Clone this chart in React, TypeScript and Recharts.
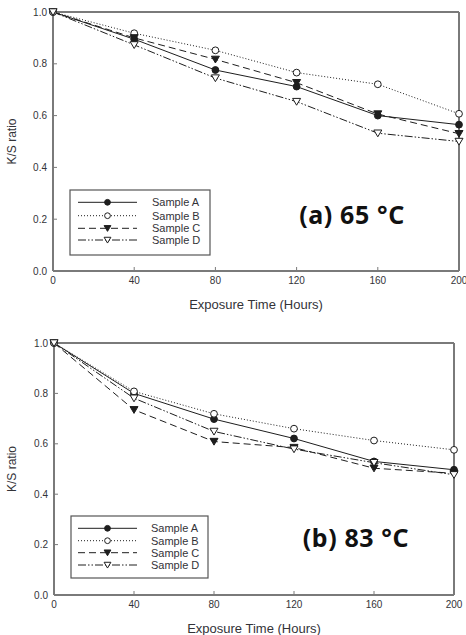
import React from 'react';
import { LineChart, Line, XAxis, YAxis, ReferenceLine, Customized } from 'recharts';

const hours = [0, 40, 80, 120, 160, 200];
const yTicks = [0, 0.2, 0.4, 0.6, 0.8, 1.0];
const seriesNames = ['Sample A', 'Sample B', 'Sample C', 'Sample D'];

const sampleA65 = [1.0, 0.895, 0.776, 0.712, 0.6, 0.565];
const sampleB65 = [1.0, 0.918, 0.852, 0.766, 0.721, 0.607];
const sampleC65 = [1.0, 0.9, 0.817, 0.727, 0.606, 0.53];
const sampleD65 = [1.0, 0.873, 0.745, 0.654, 0.532, 0.5];

const sampleA83 = [1.0, 0.8, 0.698, 0.621, 0.53, 0.497];
const sampleB83 = [1.0, 0.808, 0.719, 0.66, 0.613, 0.576];
const sampleC83 = [1.0, 0.735, 0.609, 0.585, 0.503, 0.483];
const sampleD83 = [1.0, 0.781, 0.649, 0.579, 0.525, 0.477];

const LINE = '#1e1e1e';
const AXIS = '#7a7a7a';
const TEXT = '#333338';
const FONT = '"Liberation Sans", Arial, sans-serif';

type Style = { key: string; dash?: string; marker: 'circle' | 'tri'; filled: boolean };
const styles: Style[] = [
  { key: 'a', dash: undefined, marker: 'circle', filled: true },
  { key: 'b', dash: '1 2', marker: 'circle', filled: false },
  { key: 'c', dash: '7 4', marker: 'tri', filled: true },
  { key: 'd', dash: '8 2 1.5 2 1.5 2', marker: 'tri', filled: false },
];

function Marker({ cx, cy, kind, filled, s = 1 }: { cx: number; cy: number; kind: 'circle' | 'tri'; filled: boolean; s?: number }) {
  if (cx == null || cy == null) return null;
  const fill = filled ? LINE : '#ffffff';
  if (kind === 'circle') {
    return <circle cx={cx} cy={cy} r={3.4 * s} fill={fill} stroke={LINE} strokeWidth={1} />;
  }
  const d = `M${cx - 4 * s},${cy - 3.2 * s} L${cx + 4 * s},${cy - 3.2 * s} L${cx},${cy + 3.6 * s} Z`;
  return <path d={d} fill={fill} stroke={LINE} strokeWidth={1} />;
}

function makeDot(s: Style) {
  return (props: any) => (
    <Marker key={`${s.key}-${props.index}`} cx={props.cx} cy={props.cy} kind={s.marker} filled={s.filled} />
  );
}

type PanelProps = {
  a: number[]; b: number[]; c: number[]; d: number[];
  height: number;
  margin: { top: number; right: number; left: number; bottom: number };
  yWidth: number;
  legend: { x: number; y: number; w: number; h: number; rows: number[]; lx1: number; lx2: number; tx: number };
  note: { text: string; x: number; y: number };
};

function Panel(p: PanelProps) {
  const data = hours.map((h, i) => ({ h, a: p.a[i], b: p.b[i], c: p.c[i], d: p.d[i] }));
  const L = p.legend;
  const Overlay = () => (
    <g>
      <rect x={L.x} y={L.y} width={L.w} height={L.h} fill="#ffffff" stroke="#555" strokeWidth={1.2} />
      {styles.map((s, i) => (
        <g key={s.key}>
          <line x1={L.lx1} x2={L.lx2} y1={L.rows[i]} y2={L.rows[i]} stroke={LINE} strokeWidth={1} strokeDasharray={s.dash} />
          <Marker cx={(L.lx1 + L.lx2) / 2} cy={L.rows[i]} kind={s.marker} filled={s.filled} s={0.85} />
          <text x={L.tx} y={L.rows[i]} dy="0.35em" fontSize={11} fill={TEXT} fontFamily={FONT}>
            {seriesNames[i]}
          </text>
        </g>
      ))}
      <text x={p.note.x} y={p.note.y} dy="0.35em" textAnchor="middle" fontSize={25} fontWeight={700} letterSpacing={0.6} fill="#111" fontFamily='"Noto Sans", "Open Sans", sans-serif'>
        {p.note.text}
      </text>
    </g>
  );
  return (
    <LineChart width={466} height={p.height} data={data} margin={p.margin}>
      <XAxis
        dataKey="h"
        type="number"
        domain={[0, 200]}
        ticks={hours}
        interval={0}
        height={40}
        tickSize={-4}
        tickMargin={10}
        stroke={AXIS}
        axisLine={{ stroke: AXIS, strokeWidth: 2 }}
        tickLine={{ stroke: AXIS, strokeWidth: 1 }}
        tick={{ fontSize: 10, fill: TEXT, fontFamily: FONT }}
        label={{ value: 'Exposure Time (Hours)', position: 'insideBottom', offset: 2, fontSize: 13, fill: TEXT, fontFamily: FONT }}
      />
      <YAxis
        type="number"
        domain={[0, 1]}
        ticks={yTicks}
        interval={0}
        width={p.yWidth}
        tickSize={-4}
        tickMargin={10}
        tickFormatter={(v: number) => v.toFixed(1)}
        axisLine={{ stroke: AXIS, strokeWidth: 2 }}
        tickLine={{ stroke: AXIS, strokeWidth: 1 }}
        tick={{ fontSize: 10, fill: TEXT, fontFamily: FONT }}
        label={{ value: 'K/S ratio', angle: -90, position: 'insideLeft', offset: 12, style: { textAnchor: 'middle' }, fontSize: 12, fill: TEXT, fontFamily: FONT }}
      />
      <ReferenceLine y={1} stroke={AXIS} strokeWidth={2} />
      <ReferenceLine x={200} stroke={AXIS} strokeWidth={2} />
      {styles.map((s) => (
        <Line
          key={s.key}
          dataKey={s.key}
          stroke={LINE}
          strokeWidth={1}
          strokeDasharray={s.dash}
          dot={makeDot(s)}
          activeDot={false}
          isAnimationActive={false}
        />
      ))}
      <Customized component={Overlay} />
    </LineChart>
  );
}

export default function App() {
  return (
    <div style={{ position: 'absolute', left: 0, top: 0, width: 466, height: 635, background: '#fff' }}>
      <Panel
        a={sampleA65} b={sampleB65} c={sampleC65} d={sampleD65}
        height={318}
        margin={{ top: 12, right: 7, left: 0, bottom: 7 }}
        yWidth={53}
        legend={{ x: 70, y: 190, w: 140, h: 65, rows: [202.3, 215.7, 228.3, 240], lx1: 78, lx2: 137, tx: 152 }}
        note={{ text: '(a) 65 °C', x: 352, y: 215 }}
      />
      <Panel
        a={sampleA83} b={sampleB83} c={sampleC83} d={sampleD83}
        height={317}
        margin={{ top: 25, right: 12, left: 0, bottom: 0 }}
        yWidth={54}
        legend={{ x: 71, y: 198, w: 137, h: 62, rows: [210.3, 222.7, 234.7, 247], lx1: 78, lx2: 137, tx: 151 }}
        note={{ text: '(b) 83 °C', x: 356, y: 220 }}
      />
    </div>
  );
}
